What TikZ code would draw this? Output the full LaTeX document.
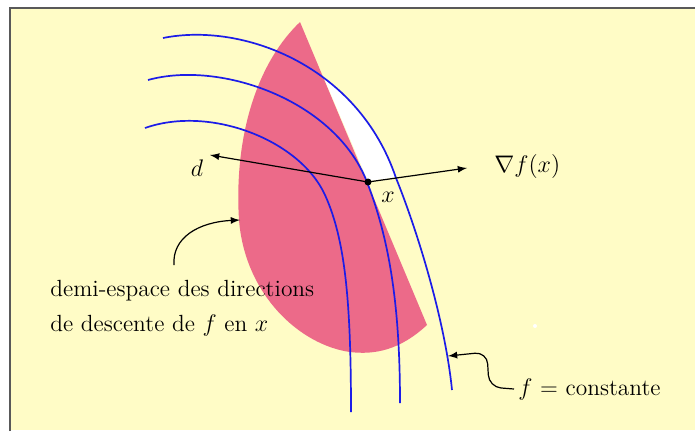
\documentclass[tikz,border=0pt]{standalone}
\usepackage{amsmath}
\usepackage{tikz}

\definecolor{papier}{RGB}{255,252,198}
\definecolor{rose}{RGB}{236,106,137}
\definecolor{bleu}{RGB}{28,28,232}

\begin{document}
\begin{tikzpicture}[x=0.5pt,y=-0.5pt,
    niveau/.style={bleu,line width=0.85pt},
    fleche/.style={-latex,line width=0.6pt},
    lbl/.style={inner sep=2pt,font=\fontsize{11.7}{17.5}\selectfont}]
    \useasboundingbox (0,0) rectangle (695,435);
    \fill[white] (0,0) rectangle (695,435);
    \fill[papier] (10,8) rectangle (695,430);
    \draw[black!65,line width=1pt] (10,431)--(10,8)--(695,8);
    % demi-espace
    \fill[rose] (300,22) -- (427,325) .. controls (400,350) and (375,355) .. (350,352)
      .. controls (300,345) and (245,295) .. (239,220)
      .. controls (234,140) and (255,65) .. (300,22) -- cycle;
    \begin{scope}
      \clip (300,22) -- (368,181) -- (470,168) -- (470,0) -- (300,0) -- cycle;
      \fill[white] (163,38) .. controls (242,22) and (358,65) .. (396,178)
        .. controls (417,230) and (445,320) .. (452,390) -- (0,390) -- cycle;
    \end{scope}
    % lignes de niveau
    \draw[niveau] (163,38) .. controls (242,22) and (358,65) .. (396,178)
      .. controls (417,230) and (445,320) .. (452,390);
    \draw[niveau] (148,80) .. controls (220,60) and (335,100) .. (367,182)
      .. controls (388,236) and (400,300) .. (400,403);
    \draw[niveau] (145,128) .. controls (210,105) and (300,140) .. (325,195)
      .. controls (345,239) and (351,300) .. (351,412);
    % point x et directions
    \coordinate (px) at (368,182);
    \coordinate (dtip) at (210,155);
    \coordinate (gtip) at (467,168);
    \draw[fleche] (px) -- (dtip);
    \draw[fleche] (px) -- (gtip);
    \fill (px) circle (3.5);
    \node[lbl] (d) at (197,168) {$d$};
    \node[lbl,anchor=west] (grad) at (490,166) {$\nabla f(x)$};
    \node[lbl] (lx) at (388,197) {$x$};
    % legendes
    \node[lbl,anchor=west,align=left,inner sep=0pt] (demi) at (50,308)
      {demi-espace des directions\\de descente de $f$ en $x$};
    \coordinate (bord) at (240,220);
    \draw[fleche] (174,265) .. controls (172,238) and (198,222) .. (bord);
    \node[lbl,anchor=west] (cst) at (514,389) {$f$ = constante};
    \coordinate (cbleu) at (448,356);
    \draw[fleche,rounded corners=6] (cst.west) -- (489,387) -- (487,352) -- (cbleu);
    \fill[white] (535,326) circle (2);
\end{tikzpicture}
\end{document}
